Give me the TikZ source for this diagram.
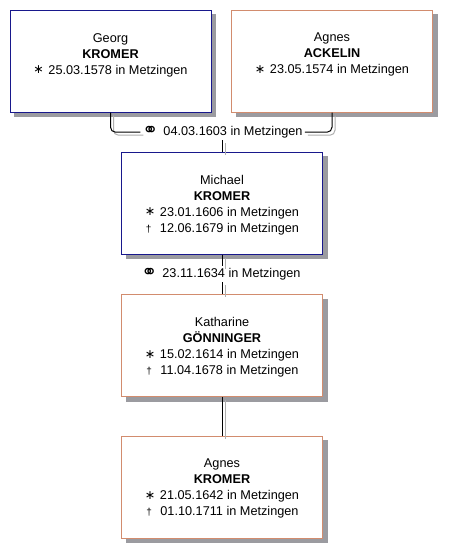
\documentclass[tikz,border=0pt]{standalone}
\usepackage{fontspec}
\setmainfont{Liberation Sans}
\newfontfamily\symfont{DejaVu Sans}
\usetikzlibrary{backgrounds}
\definecolor{maleborder}{RGB}{24,24,140}
\definecolor{femaleborder}{RGB}{210,140,110}
\definecolor{boxshadow}{RGB}{155,155,160}
\definecolor{lineshadow}{RGB}{175,175,175}
\newcommand\birthmark{\makebox[15pt][l]{\raisebox{0.5pt}{\symfont\fontsize{12.5}{16}\selectfont ∗}}}
\newcommand\deathmark{\makebox[15pt][l]{\hspace{1pt}\fontsize{10}{16}\selectfont †}}
\newcommand\ringmark{\makebox[21pt][l]{\smash{\raisebox{-0.5pt}{\symfont\fontsize{19}{16}\selectfont ⚭}}}}
\tikzset{
  person/.style={draw, line width=1pt, fill=white, minimum width=201pt,
    minimum height=102pt, inner sep=0pt},
  male/.style={person, draw=maleborder},
  female/.style={person, draw=femaleborder},
  boxshade/.style={fill=boxshadow},
  info/.style={font=\fontsize{12.7}{16}\selectfont, align=center, anchor=north, inner sep=0pt},
  marr/.style={font=\fontsize{12.7}{16}\selectfont, inner sep=2pt, anchor=base},
  conn/.style={line width=1pt, black, rounded corners=5pt},
  connshadow/.style={line width=1pt, lineshadow, rounded corners=5pt,
    transform canvas={shift={(3pt,-3pt)}}}
}
\begin{document}
\begin{tikzpicture}[x=1pt, y=-1pt]
\useasboundingbox (0,0) rectangle (452,558);

% person boxes
\node[male]   (georg)     at (110.5,61) {};
\node[female] (agnes)     at (332,61)   {};
\node[male]   (michael)   at (222,203)  {};
\node[female] (katharine) at (222,345.5) {};
\node[female] (agneskr)   at (222,487)  {};

% box shadows, behind the boxes
\begin{scope}[on background layer]
  \fill[white] (0,0) rectangle (452,558);
  \foreach \b in {georg,agnes,michael,katharine,agneskr}
    \fill[boxshade] ([shift={(4.5,4.5)}]\b.south west) rectangle ([shift={(4.5,4.5)}]\b.north east);
\end{scope}

% texts
\node[info] (georgtxt) at ([yshift=-23.5pt]georg.north)
  {Georg\\\textbf{KROMER}\\\birthmark25.03.1578 in Metzingen};
\node[info] (agnestxt) at ([yshift=-23.5pt]agnes.north)
  {Agnes\\\textbf{ACKELIN}\\\birthmark23.05.1574 in Metzingen};
\node[info] (michaeltxt) at ([yshift=-23.5pt]michael.north)
  {Michael\\\textbf{KROMER}\\\birthmark23.01.1606 in Metzingen\\\deathmark12.06.1679 in Metzingen};
\node[info] (katharinetxt) at ([yshift=-23.5pt]katharine.north)
  {Katharine\\\textbf{GÖNNINGER}\\\birthmark15.02.1614 in Metzingen\\\deathmark11.04.1678 in Metzingen};
\node[info] (agneskrtxt) at ([yshift=-23.5pt]agneskr.north)
  {Agnes\\\textbf{KROMER}\\\birthmark21.05.1642 in Metzingen\\\deathmark01.10.1711 in Metzingen};

% marriage labels
\node[marr] (marr1) at (222.5,135.5) {\ringmark04.03.1603 in Metzingen};
\node[marr] (marr2) at (221,277.5) {\ringmark23.11.1634 in Metzingen};

% connector shadows
\draw[connshadow] (georg.south) |- (marr1.west);
\draw[connshadow] (agnes.south) |- (marr1.east);
\draw[connshadow] (marr1.south -| michael.north) -- (michael.north);
\draw[connshadow] (michael.south) -- (marr2.north -| michael.south);
\draw[connshadow] (marr2.south -| katharine.north) -- (katharine.north);
\draw[connshadow] (katharine.south) -- (agneskr.north);

% connectors
\draw[conn] (georg.south) |- (marr1.west);
\draw[conn] (agnes.south) |- (marr1.east);
\draw[conn] (marr1.south -| michael.north) -- (michael.north);
\draw[conn] (michael.south) -- (marr2.north -| michael.south);
\draw[conn] (marr2.south -| katharine.north) -- (katharine.north);
\draw[conn] (katharine.south) -- (agneskr.north);
\end{tikzpicture}
\end{document}
